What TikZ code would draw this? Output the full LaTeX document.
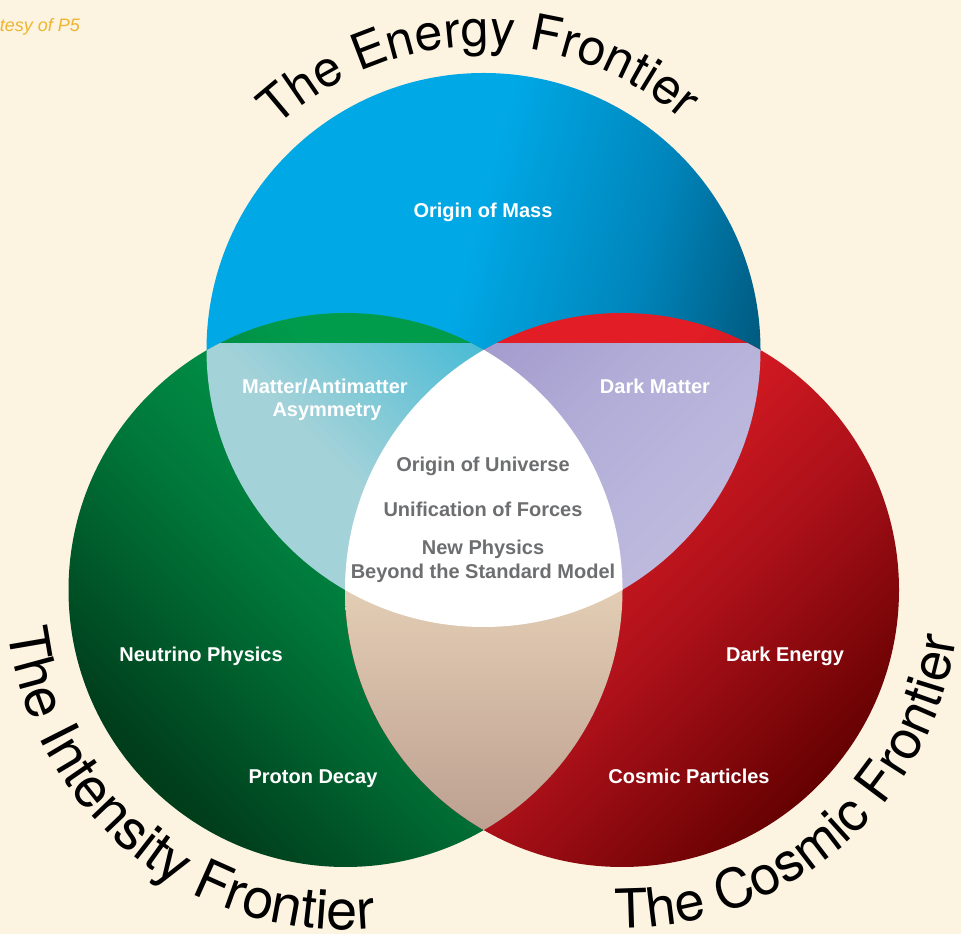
\documentclass[tikz,border=0pt]{standalone}
\usepackage{fontspec}
\setmainfont{Liberation Sans}
\newfontfamily\arcfont{TeX Gyre Heros}
\usetikzlibrary{decorations.text,calc}
\definecolor{bg}{HTML}{FDF3E1}
\definecolor{bluelight}{HTML}{00A9E6}
\definecolor{bluemid}{HTML}{0085BB}
\definecolor{bluedark}{HTML}{004C6C}
\definecolor{greenlight}{HTML}{009C4C}
\definecolor{greenmid}{HTML}{00773A}
\definecolor{greendark}{HTML}{003D1B}
\definecolor{redlight}{HTML}{E21D25}
\definecolor{redmid}{HTML}{AE111A}
\definecolor{reddark}{HTML}{620000}
\definecolor{bgpale}{HTML}{A3D2D8}
\definecolor{bgmid}{HTML}{62C1D6}
\definecolor{bgcyan}{HTML}{1FB3D3}
\definecolor{brdark}{HTML}{9A90C6}
\definecolor{brmid}{HTML}{B3AED8}
\definecolor{brlight}{HTML}{CAC8E5}
\definecolor{grtop}{HTML}{E4CEB5}
\definecolor{grbot}{HTML}{BC9F90}
\definecolor{greytext}{HTML}{6D6E70}
\definecolor{tagc}{HTML}{EDB530}
\pgfdeclarehorizontalshading{blueS}{100bp}{color(0bp)=(bluelight); color(46bp)=(bluelight); color(62bp)=(bluemid); color(78bp)=(bluedark); color(100bp)=(bluedark)}
\pgfdeclarehorizontalshading{greenS}{100bp}{color(0bp)=(greenlight); color(36bp)=(greenlight); color(54bp)=(greenmid); color(74bp)=(greendark); color(100bp)=(greendark)}
\pgfdeclarehorizontalshading{redS}{100bp}{color(0bp)=(redlight); color(38bp)=(redlight); color(56bp)=(redmid); color(76bp)=(reddark); color(100bp)=(reddark)}
\pgfdeclarehorizontalshading{bgS}{100bp}{color(0bp)=(bgpale); color(50bp)=(bgpale); color(75bp)=(bgmid); color(100bp)=(bgcyan)}
\pgfdeclarehorizontalshading{brS}{100bp}{color(0bp)=(brdark); color(40bp)=(brmid); color(100bp)=(brlight)}
\begin{document}
\begin{tikzpicture}[x=1pt,y=1pt,
  lbl/.style={anchor=base, inner sep=0pt, text=white, font=\bfseries\fontsize{20}{24}\selectfont},
  glbl/.style={anchor=base, inner sep=0pt, text=greytext, font=\bfseries\fontsize{20}{24}\selectfont}]
\useasboundingbox (0,0) rectangle (961,934);
\fill[bg] (0,0) rectangle (961,934);
\coordinate (B) at (483.5,584);
\coordinate (G) at (345.5,344);
\coordinate (R) at (622,344);
% main circles
\shade[shading=blueS, shading angle=-15] (B) circle[radius=277pt];
\shade[shading=greenS, shading angle=225] (G) circle[radius=277pt];
\shade[shading=redS, shading angle=-45] (R) circle[radius=277pt];
% blue-green lens
\begin{scope}
\clip (B) circle[radius=277pt];
\clip (G) circle[radius=277pt];
\shade[shading=bgS, shading angle=45] (200,338) rectangle (490,590);
\end{scope}
% blue-red lens
\begin{scope}
\clip (B) circle[radius=277pt];
\clip (R) circle[radius=277pt];
\shade[shading=brS, shading angle=-45] (477,338) rectangle (767,590);
\end{scope}
% green-red lens
\begin{scope}
\clip (G) circle[radius=277pt];
\clip (R) circle[radius=277pt];
\shade[top color=grtop, bottom color=grbot] (340,98) rectangle (627,350);
\end{scope}
% white centre
\begin{scope}
\clip (B) circle[radius=277pt];
\clip (G) circle[radius=277pt];
\fill[white] (R) circle[radius=277pt];
\end{scope}
% labels
\node[lbl] (mass) at (483,716) {Origin of Mass};
\node[lbl] (mam1) at (325,540) {Matter/Antimatter};
\node[lbl] (mam2) at (327,517) {Asymmetry};
\node[lbl] (dm) at (655,540) {Dark Matter};
\node[glbl] (ou) at (483,462) {Origin of Universe};
\node[glbl] (uf) at (483,417) {Unification of Forces};
\node[glbl] (np1) at (483,379) {New Physics};
\node[glbl] (np2) at (483,355) {Beyond the Standard Model};
\node[lbl] (nu) at (201,272) {Neutrino Physics};
\node[lbl] (de) at (785,272) {Dark Energy};
\node[lbl] (pd) at (313,150) {Proton Decay};
\node[lbl] (cp) at (689,150) {Cosmic Particles};
\node[anchor=base east, inner sep=0pt, text=tagc, font=\itshape\fontsize{18}{22}\selectfont] (credit) at (80,902) {tesy of P5};
% arc titles
\path[decorate, decoration={text along path, text align=center,
  text={|\arcfont\fontsize{50}{60}\selectfont|The Energy Frontier}}]
  ($(B)+(161:304pt)$) arc[start angle=161, end angle=21, radius=304pt];
\path[decorate, decoration={text along path, text align=center,
  text={|\arcfont\fontsize{55.5}{66}\selectfont|The Intensity Frontier}}]
  ($(G)+(161:340pt)$) arc[start angle=161, end angle=301, radius=340pt];
\path[decorate, decoration={text along path, text align=center,
  text={|\arcfont\fontsize{54}{64}\selectfont|The Cosmic Frontier}}]
  ($(R)+(-119.6:338pt)$) arc[start angle=-119.6, end angle=20.4, radius=338pt];
\end{tikzpicture}
\end{document}
